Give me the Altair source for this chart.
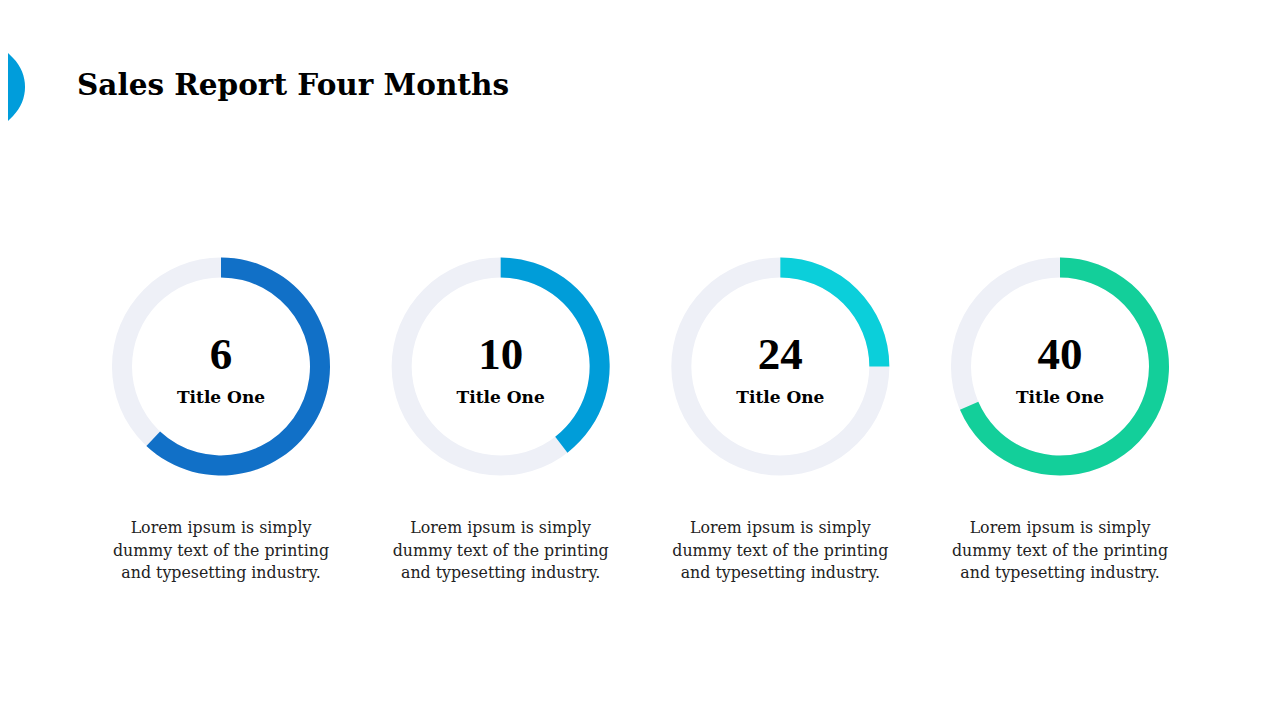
import altair as alt
import pandas as pd

# ---- data ----
keys = ["A", "B", "C", "D"]
numbers = ["6", "10", "24", "40"]
percent = [62, 39.5, 25, 68.5]
colors = ["#1170C7", "#009DD9", "#0BCFDA", "#13CF9A"]
subtitles = ["Title One", "Title One", "Title One", "Title One"]
descriptions = [
    "Lorem ipsum is simply\ndummy text of the printing\nand typesetting industry.",
    "Lorem ipsum is simply\ndummy text of the printing\nand typesetting industry.",
    "Lorem ipsum is simply\ndummy text of the printing\nand typesetting industry.",
    "Lorem ipsum is simply\ndummy text of the printing\nand typesetting industry.",
]
TITLE = "Sales Report Four Months"

df = pd.DataFrame({
    "key": keys,
    "number": numbers,
    "pct": percent,
    "zero": [0] * len(keys),
    "sub": subtitles,
    "desc": descriptions,
})

W, H = 1264, 704
CY = 358.5
R_OUT, R_IN = 109, 89
TWO_PI = 6.283185307

xenc = alt.X("key:N", scale=alt.Scale(type="point", domain=keys, range=[213, 1052], padding=0), axis=None)

base = alt.Chart(df)

track = base.mark_arc(radius=R_OUT, radius2=R_IN, theta=0, theta2=TWO_PI, color="#EEF0F7").encode(
    x=xenc, y=alt.value(CY)
)

progress = base.mark_arc(radius=R_OUT, radius2=R_IN).encode(
    x=xenc,
    y=alt.value(CY),
    theta=alt.Theta("pct:Q", scale=alt.Scale(domain=[0, 100], range=[0, TWO_PI]), stack=None),
    theta2=alt.Theta2("zero:Q"),
    color=alt.Color("key:N", scale=alt.Scale(domain=keys, range=colors), legend=None),
)

num_text = base.mark_text(
    font="Liberation Serif", fontWeight="bold", fontSize=45, color="#000000",
    align="center", baseline="alphabetic"
).encode(x=xenc, y=alt.value(361), text="number:N")

sub_text = base.mark_text(
    font="DejaVu Serif", fontWeight="bold", fontSize=17, color="#000000",
    align="center", baseline="alphabetic"
).encode(x=xenc, y=alt.value(395), text="sub:N")

desc_text = base.mark_text(
    font="DejaVu Serif", fontSize=15.8, color="#222222", lineBreak="\n", lineHeight=22.5,
    align="center", baseline="alphabetic"
).encode(x=xenc, y=alt.value(525), text="desc:N")

title_df = pd.DataFrame({"t": [TITLE]})
title = alt.Chart(title_df).mark_text(
    font="DejaVu Serif", fontWeight="bold", fontSize=29.5, color="#000000",
    align="left", baseline="alphabetic"
).encode(x=alt.value(69), y=alt.value(87), text="t:N")

deco_path = "M 0 -1 L 0.5975 -0.4025 A 0.569 0.569 0 0 1 0.5975 0.4025 L 0 1 L -1 0 Z"
deco = alt.Chart(pd.DataFrame({"d": [1]})).mark_point(
    shape=deco_path, filled=True, color="#009DDB", opacity=1, size=20736, strokeWidth=0
).encode(x=alt.value(-38), y=alt.value(79))

chart = alt.layer(deco, track, progress, num_text, sub_text, desc_text, title).properties(
    width=W, height=H, padding=0, autosize=alt.AutoSizeParams(type="none"),
    background="#FFFFFF"
).configure_view(strokeWidth=0)

chart.save("out.html", embed_options={"renderer": "svg", "actions": False})
